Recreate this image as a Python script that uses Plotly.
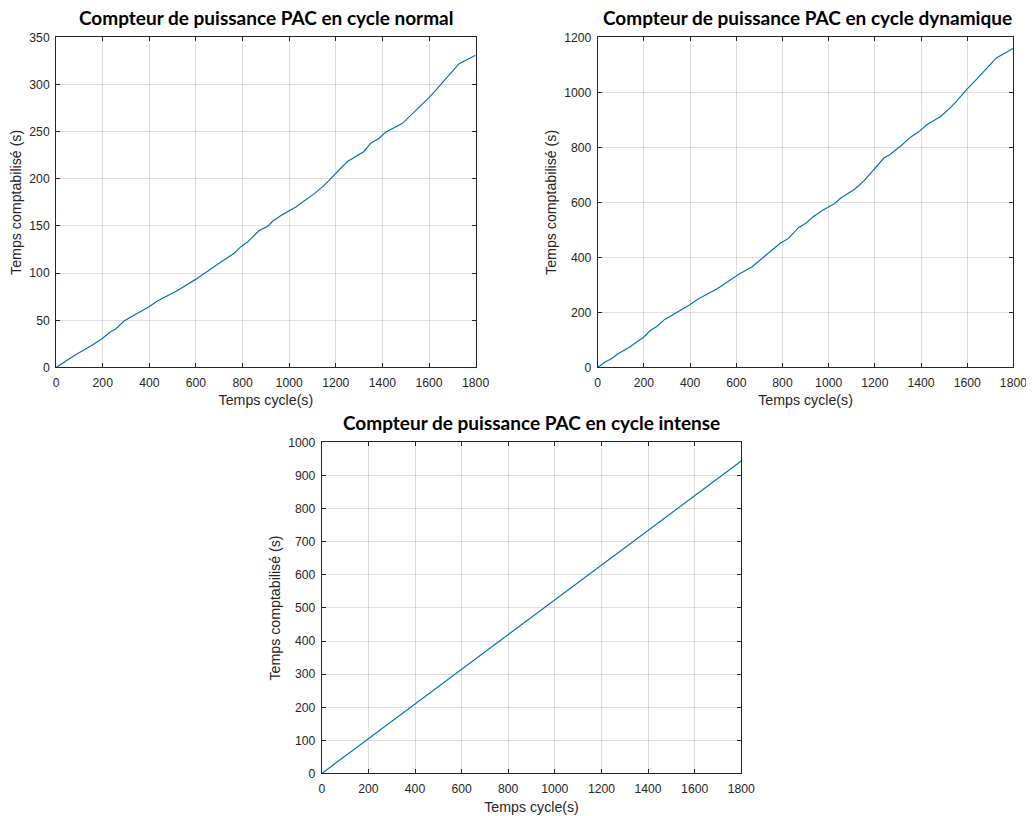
import plotly.graph_objects as go

# ---- data ----
time_ticks = [0, 200, 400, 600, 800, 1000, 1200, 1400, 1600, 1800]

normal_x = [0, 36, 80, 150, 200, 229, 257, 293, 400, 436, 521, 600, 657, 707, 764, 793, 821,
            871, 907, 929, 971, 1029, 1050, 1107, 1150, 1207, 1250, 1321, 1350, 1386, 1414,
            1486, 1536, 1600, 1636, 1729, 1800]
normal_y = [0, 6, 13, 23, 31, 37, 41, 49.6, 64.5, 70.6, 81.6, 93.6, 103.5, 111.7, 121, 128, 132.9,
            145.2, 149.5, 155, 162, 170, 174, 184, 193, 207, 218.3, 229, 237.7, 243, 249.3,
            258.8, 270.4, 286, 295.8, 322, 331]

dynamic_x = [0, 33, 61, 83, 140, 169, 201, 226, 254, 290, 397, 433, 519, 611, 669, 711, 761,
             790, 826, 869, 904, 933, 976, 1026, 1054, 1111, 1154, 1197, 1240, 1261, 1311,
             1354, 1390, 1426, 1483, 1526, 1554, 1597, 1633, 1726, 1800]
dynamic_y = [0, 20.6, 32.7, 47, 75, 93, 111.5, 133, 148, 174.5, 227, 248, 287, 339, 366, 396, 429,
             451, 469, 508, 526, 548, 572, 596, 617, 647, 679, 719, 762, 771.5, 804,
             837, 856.4, 883, 911, 943.6, 968, 1010, 1040.6, 1125, 1160]

intense_x = [0, 1800]
intense_y = [0, 944]

titles = ["Compteur de puissance PAC en cycle normal",
          "Compteur de puissance PAC en cycle dynamique",
          "Compteur de puissance PAC en cycle intense"]
x_label = "Temps cycle(s)"
y_label = "Temps comptabilisé (s)"

y_ranges = [(0, 350, 50), (0, 1200, 200), (0, 1000, 100)]

# ---- layout geometry ----
W, H = 1046, 816
# screen position -> figure position (empirical page offset / scale)
SX, OX = 0.985, 9.8
SY, OY = 0.982, 15.2


def fx(v):
    return (v - OX) / SX


def fy(v):
    return (v - OY) / SY


boxes = [  # left, right, top, bottom (screen px)
    (55, 475, 37.5, 367.3),
    (597.3, 1013.5, 37.5, 367.3),
    (321, 741, 442.3, 773),
]
title_y = [17.5, 17.5, 422]
title_x = [265, 807, 531]

LINE = "#0072BD"
AX = "#262626"
GRID = "rgba(38,38,38,0.15)"

fig = go.Figure()
series = [(normal_x, normal_y), (dynamic_x, dynamic_y), (intense_x, intense_y)]
for i, (xs, ys) in enumerate(series):
    sfx = "" if i == 0 else str(i + 1)
    fig.add_trace(go.Scatter(x=xs, y=ys, mode="lines", line=dict(color=LINE, width=1.2),
                             xaxis="x" + sfx, yaxis="y" + sfx, showlegend=False))

layout = dict(width=W, height=H, margin=dict(l=0, r=0, t=0, b=0),
              paper_bgcolor="white", plot_bgcolor="white", showlegend=False,
              font=dict(family="Liberation Sans, Arial, sans-serif", color=AX, size=12))
annotations = []
for i, (l, r, t, b) in enumerate(boxes):
    sfx = "" if i == 0 else str(i + 1)
    y0, y1, dy = y_ranges[i]
    common = dict(showline=True, linecolor=AX, linewidth=1, mirror="ticks",
                  ticks="inside", ticklen=4, tickcolor=AX, tickwidth=1,
                  showgrid=True, gridcolor=GRID, gridwidth=1, zeroline=False,
                  tickfont=dict(size=12.2, color=AX), fixedrange=True)
    layout["xaxis" + sfx] = dict(common, domain=[fx(l) / W, fx(r) / W], range=[0, 1800],
                                 tickvals=time_ticks, ticktext=[str(v) for v in time_ticks],
                                 anchor="y" + sfx, ticklabelstandoff=4,
                                 title=dict(text=x_label, font=dict(size=14.2, color=AX), standoff=6))
    layout["yaxis" + sfx] = dict(common, domain=[1 - fy(b) / H, 1 - fy(t) / H], range=[y0, y1],
                                 tickvals=list(range(y0, y1 + 1, dy)),
                                 anchor="x" + sfx, ticklabelstandoff=3,
                                 title=dict(text=y_label, font=dict(size=14.2, color=AX), standoff=4))
    annotations.append(dict(text="<b>" + titles[i] + "</b>", xref="paper", yref="paper",
                            x=fx(title_x[i]) / W, y=1 - fy(title_y[i]) / H, xanchor="center",
                            yanchor="middle", showarrow=False,
                            font=dict(family="Lato, Noto Sans, sans-serif", size=19, color="#000000")))
layout["annotations"] = annotations
fig.update_layout(**layout)
fig.write_html("out.html")
